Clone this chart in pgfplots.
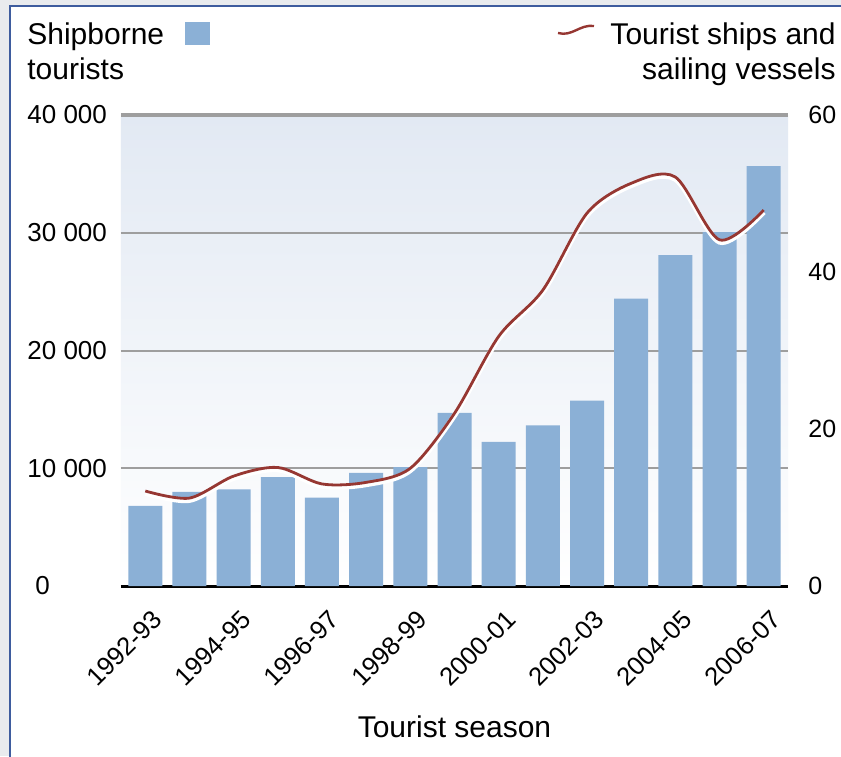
\documentclass[border=0pt]{standalone}
\usepackage{pgfplots}
\pgfplotsset{compat=1.18}
\usepackage{pgfplotstable}
\usepackage{fontspec}
\setmainfont{Liberation Sans}
\definecolor{barblue}{RGB}{139,176,214}
\definecolor{linered}{RGB}{150,55,50}
\definecolor{gridgray}{RGB}{158,158,158}
\definecolor{outergray}{RGB}{233,235,238}
\definecolor{frameblue}{RGB}{62,92,158}
\definecolor{bgtop}{RGB}{226,233,243}

\pgfplotstableread{
x tourists ships
0 6800 12.1
1 8000 11.2
2 8200 14.0
3 9250 15.1
4 7500 13.0
5 9600 13.2
6 10100 15.0
7 14700 22.0
8 12250 31.8
9 13650 37.7
10 15750 47.5
11 24400 51.3
12 28100 52.1
13 30050 44.1
14 35650 47.9
}\datatable

\begin{document}
\begin{tikzpicture}
\path[use as bounding box] (-60.5pt,-85pt) rectangle (360pt,293pt);
\clip (-60.5pt,-85pt) rectangle (360pt,293pt);
\fill[outergray] (-60.5pt,-85pt) rectangle (360pt,293pt);
\filldraw[fill=white, draw=frameblue, line width=1pt] (-55.5pt,-95pt) rectangle (370pt,290pt);

\begin{axis}[
 at={(0pt,0pt)}, anchor=south west, scale only axis, width=333.5pt, height=235.5pt,
 xmin=-0.55, xmax=14.55, ymin=0, ymax=40000,
 axis x line*=bottom, axis y line*=left,
 x axis line style={black, line width=1.5pt, -},
 y axis line style={draw=none},
 major tick length=0pt,
 scaled ticks=false,
 xtick={0,2,...,14},
 xticklabels={1992-93,1994-95,1996-97,1998-99,2000-01,2002-03,2004-05,2006-07},
 xticklabel style={xshift=7pt, yshift=-13.5pt, rotate=45, anchor=east, font=\fontsize{12.8}{14}\selectfont, inner sep=1pt},
 ytick={0,10000,20000,30000,40000},
 yticklabels={\hspace{4pt}0,10 000,20 000,30 000,40 000},
 yticklabel style={anchor=west, inner sep=0pt, xshift=-47pt, font=\fontsize{13}{15}\selectfont},
 ymajorgrids, grid style={gridgray, line width=1pt},
 axis background/.style={top color=bgtop, bottom color=white},
 xlabel={Tourist season},
 xlabel style={at={(axis description cs:0.5,0)}, anchor=base, yshift=-75.5pt, font=\fontsize{15}{18}\selectfont},
 clip=false,
]
\draw[gridgray, line width=1.6pt] (rel axis cs:0,1) -- (rel axis cs:1,1);
\addplot[ybar, bar width=17pt, fill=barblue, draw=none] table[x=x,y=tourists]{\datatable};
\end{axis}

\begin{axis}[
 at={(0pt,0pt)}, anchor=south west, scale only axis, width=333.5pt, height=235.5pt,
 xmin=-0.55, xmax=14.55, ymin=0, ymax=60,
 axis x line=none, axis y line*=right, y axis line style={draw=none},
 major tick length=0pt,
 ytick={0,20,40,60},
 yticklabel style={anchor=west, inner sep=0pt, xshift=10pt, font=\fontsize{12.5}{15}\selectfont, /pgf/number format/assume math mode=true},
 clip=false,
]
\addplot[smooth, white, line width=2.6pt, transform canvas={yshift=-1.1pt}] table[x=x,y=ships]{\datatable};
\addplot[smooth, linered, line width=1.4pt] table[x=x,y=ships]{\datatable};
\end{axis}

\node[anchor=base west, font=\fontsize{15}{18}\selectfont, inner sep=0pt] at (-47pt,270.5pt) {Shipborne};
\node[anchor=base west, font=\fontsize{15}{18}\selectfont, inner sep=0pt] at (-47pt,253pt) {tourists};
\fill[barblue] (32pt,270.5pt) rectangle (44.5pt,282pt);
\node[anchor=base east, font=\fontsize{15}{18}\selectfont, inner sep=0pt] at (357.5pt,270.5pt) {Tourist ships and};
\node[anchor=base east, font=\fontsize{15}{18}\selectfont, inner sep=0pt] at (357.5pt,253pt) {sailing vessels};
\draw[linered, line width=1.2pt] (218.5pt,276.5pt) .. controls (225.5pt,274.5pt) and (229.5pt,281pt) .. (236.5pt,280pt);
\end{tikzpicture}
\end{document}
